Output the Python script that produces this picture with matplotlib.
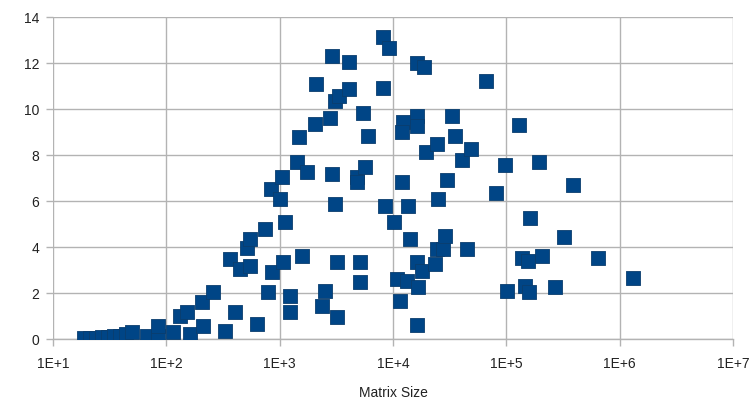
import matplotlib.pyplot as plt
from matplotlib.ticker import FixedLocator, NullLocator

matrix_size = [
    18.8, 21.2, 24.0, 27.1, 30.6, 34.5, 39.0, 44.1, 49.8,
    67.6, 84.5, 84.5, 114.6, 132, 152, 162, 207, 211, 258, 330, 404, 632,
    365, 447, 515, 548, 548, 743, 790, 858, 1072,
    840, 1009, 1050, 1117, 1236, 1236, 1427, 1746, 1578, 1483,
    2051, 2094, 2785, 2899, 2899, 3083, 3342, 4100, 4100, 5450, 6030,
    4820, 4820, 5680, 3083, 3214, 5130, 5130, 2518, 2366, 3214,
    8190, 9250, 8190, 12270, 16330, 16330, 12030, 16330, 18800, 19590,
    12030, 8510, 13580, 10230, 14150, 10860, 13300, 16680, 16330, 18070,
    23530, 24490, 27670, 28840, 11560, 16330, 25000, 30000,
    33270, 35320, 24490, 40740, 48870, 66370, 45090,
    81280, 97500, 101600, 129700, 195000, 389000, 162200, 323600,
    137700, 155600, 207000, 645700, 1315000, 146600, 158900, 269800,
]
value = [
    0.04, 0.04, 0.06, 0.09, 0.09, 0.13, 0.13, 0.2, 0.3,
    0.13, 0.13, 0.57, 0.3, 1.0, 1.17, 0.2, 1.6, 0.57, 2.04, 0.35, 1.17, 0.65,
    3.48, 3.04, 3.96, 4.35, 3.17, 4.78, 2.04, 2.91, 3.35,
    6.52, 6.09, 7.04, 5.09, 1.87, 1.17, 7.7, 7.26, 3.61, 8.78,
    9.35, 11.09, 9.61, 12.3, 7.17, 10.35, 10.57, 12.04, 10.87, 9.83, 8.83,
    7.04, 6.83, 7.48, 5.87, 3.35, 3.35, 2.48, 2.09, 1.43, 0.96,
    13.13, 12.65, 10.91, 9.43, 9.7, 9.26, 9.0, 12.0, 11.83, 8.13,
    6.83, 5.78, 5.78, 5.09, 4.35, 2.61, 2.52, 2.26, 3.35, 2.96,
    3.26, 3.91, 3.91, 4.48, 1.65, 0.61, 6.09, 6.91,
    9.7, 8.83, 8.48, 7.78, 8.26, 11.22, 3.91,
    6.35, 7.57, 2.09, 9.3, 7.7, 6.7, 5.26, 4.43,
    3.52, 3.39, 3.61, 3.52, 2.65, 2.3, 2.04, 2.26,
]

x_ticks = [1e1, 1e2, 1e3, 1e4, 1e5, 1e6, 1e7]
x_labels = ["1E+1", "1E+2", "1E+3", "1E+4", "1E+5", "1E+6", "1E+7"]
y_ticks = [0, 2, 4, 6, 8, 10, 12, 14]

plt.rcParams["font.family"] = ["Liberation Sans", "DejaVu Sans"]

fig = plt.figure(figsize=(7.56, 4.06), dpi=100)
ax = fig.add_axes([0.0701, 0.1626, 0.8995, 0.7931])

ax.scatter(matrix_size, value, marker="s", s=95, color="#004586",
           edgecolors="#0a3d6e", linewidths=0.6, zorder=3)

ax.set_xscale("log")
ax.set_xlim(1e1, 1e7)
ax.set_ylim(0, 14)
ax.xaxis.set_major_locator(FixedLocator(x_ticks))
ax.xaxis.set_minor_locator(NullLocator())
ax.set_xticks(x_ticks)
ax.set_xticklabels(x_labels)
ax.set_yticks(y_ticks)

ax.grid(True, color="#b3b3b3", linewidth=1.0, zorder=0)
for side in ["left", "right", "top"]:
    ax.spines[side].set_visible(False)
ax.spines["bottom"].set_color("#b3b3b3")
ax.spines["bottom"].set_linewidth(1.0)
ax.tick_params(axis="both", colors="#b3b3b3", labelcolor="#222222",
               labelsize=10, length=5, width=1.0, direction="out")
ax.tick_params(axis="x", pad=7)
ax.tick_params(axis="y", pad=5)

ax.set_xlabel("Matrix Size", fontsize=10, color="#222222", labelpad=11)

fig.savefig("out.png", dpi=100)
